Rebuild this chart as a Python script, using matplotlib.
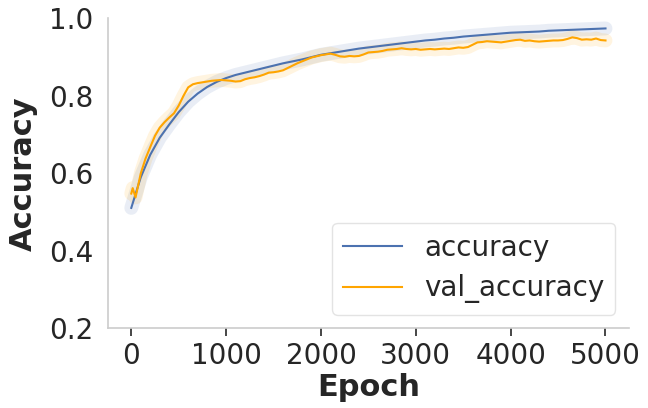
import matplotlib
matplotlib.use("Agg")
import matplotlib.pyplot as plt

acc_epochs = [0, 100, 200, 300, 400, 500, 600, 700, 800, 900, 1000,
              1100, 1200, 1300, 1400, 1500, 1600, 1700, 1800, 1900, 2000,
              2100, 2200, 2300, 2400, 2500, 2600, 2700, 2800, 2900, 3000,
              3100, 3200, 3300, 3400, 3500, 3600, 3700, 3800, 3900, 4000,
              4100, 4200, 4300, 4400, 4500, 4600, 4700, 4800, 4900, 5000]
accuracy = [0.511, 0.590, 0.648, 0.692, 0.726, 0.758, 0.785, 0.806, 0.823, 0.836, 0.846,
            0.854, 0.860, 0.866, 0.872, 0.878, 0.884, 0.889, 0.894, 0.900, 0.906,
            0.910, 0.914, 0.918, 0.922, 0.925, 0.928, 0.931, 0.934, 0.937, 0.940,
            0.943, 0.945, 0.948, 0.950, 0.953, 0.955, 0.957, 0.959, 0.961, 0.963,
            0.964, 0.965, 0.966, 0.968, 0.969, 0.970, 0.971, 0.972, 0.973, 0.974]

val_epochs = [0, 15, 45, 100, 150, 200, 250, 300, 350, 400, 450, 500, 550, 600, 650, 700,
              750, 800, 850, 900, 950, 1000, 1050, 1100, 1150, 1200, 1250, 1300, 1350,
              1400, 1450, 1500, 1550, 1600, 1650, 1700, 1750, 1800, 1850, 1900, 1950,
              2000, 2050, 2100, 2150, 2200, 2250, 2300, 2350, 2400, 2450, 2500, 2550,
              2600, 2650, 2700, 2750, 2800, 2850, 2900, 2950, 3000, 3050, 3100, 3150,
              3200, 3250, 3300, 3350, 3400, 3450, 3500, 3550, 3600, 3650, 3700, 3750,
              3800, 3850, 3900, 3950, 4000, 4050, 4100, 4150, 4200, 4250, 4300, 4350,
              4400, 4450, 4500, 4550, 4600, 4650, 4700, 4750, 4800, 4850, 4900, 4950, 5000]
val_accuracy = [0.548, 0.562, 0.538, 0.600, 0.638, 0.668, 0.697, 0.718, 0.732, 0.744, 0.755,
                0.775, 0.800, 0.822, 0.830, 0.833, 0.835, 0.837, 0.839, 0.840, 0.841, 0.840,
                0.839, 0.837, 0.838, 0.843, 0.846, 0.848, 0.851, 0.855, 0.860, 0.861, 0.863,
                0.866, 0.872, 0.878, 0.884, 0.889, 0.894, 0.899, 0.902, 0.905, 0.907, 0.909,
                0.906, 0.902, 0.901, 0.903, 0.902, 0.903, 0.907, 0.912, 0.913, 0.914, 0.916,
                0.919, 0.920, 0.921, 0.923, 0.921, 0.920, 0.921, 0.919, 0.920, 0.921, 0.920,
                0.921, 0.922, 0.921, 0.923, 0.925, 0.924, 0.926, 0.932, 0.938, 0.939, 0.941,
                0.940, 0.939, 0.938, 0.940, 0.942, 0.944, 0.945, 0.942, 0.943, 0.941, 0.940,
                0.941, 0.942, 0.943, 0.943, 0.944, 0.947, 0.951, 0.949, 0.945, 0.946, 0.945,
                0.948, 0.944, 0.943]

x_ticks = [0, 1000, 2000, 3000, 4000, 5000]
y_ticks = [0.2, 0.4, 0.6, 0.8, 1.0]

blue = "#4C72B0"
orange = "#FFA500"
text_col = "#262626"

plt.rcParams["font.family"] = ["DejaVu Sans"]
fig = plt.figure(figsize=(6.48, 4.08), dpi=100)
ax = fig.add_axes([0.166, 0.195, 0.805, 0.76])

ax.plot(acc_epochs, accuracy, color=blue, lw=10, alpha=0.12, solid_capstyle="round")
ax.plot(val_epochs, val_accuracy, color=orange, lw=10, alpha=0.12, solid_capstyle="round")
ax.plot(acc_epochs, accuracy, color=blue, lw=1.5, label="accuracy")
ax.plot(val_epochs, val_accuracy, color=orange, lw=1.5, label="val_accuracy")

ax.set_ylim(0.2, 1.0)
ax.set_xlim(-250, 5250)
ax.set_xticks(x_ticks)
ax.set_yticks(y_ticks)
ax.set_yticklabels([f"{v:.1f}" for v in y_ticks])

for s in ["top", "right"]:
    ax.spines[s].set_visible(False)
for s in ["left", "bottom"]:
    ax.spines[s].set_color("#cccccc")
    ax.spines[s].set_linewidth(1.2)

ax.tick_params(axis="x", length=6, width=1.2, color=text_col, labelsize=20, labelcolor=text_col, pad=4)
ax.tick_params(axis="y", length=0, labelsize=20, labelcolor=text_col, pad=10)

ax.set_xlabel("Epoch", fontsize=22, fontweight="bold", color=text_col, labelpad=2)
ax.set_ylabel("Accuracy", fontsize=22, fontweight="bold", color=text_col, labelpad=8)

leg = ax.legend(loc="lower right", fontsize=20, handlelength=2.1, frameon=True,
                borderpad=0.4, labelspacing=0.45, handletextpad=0.8,
                borderaxespad=0.5)
leg.get_frame().set_edgecolor("#dddddd")
for t in leg.get_texts():
    t.set_color(text_col)

fig.savefig("out.png", dpi=100)
